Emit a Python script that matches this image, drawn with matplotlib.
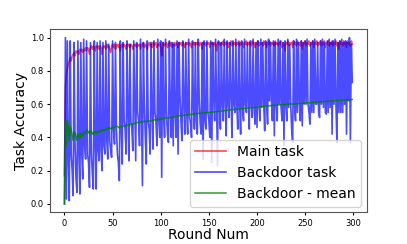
import numpy as np
import matplotlib
matplotlib.use("Agg")
import matplotlib.pyplot as plt

# Precisión por ronda (300 rondas)
main_task = [
    0.17, 0.70, 0.78, 0.81, 0.84, 0.86, 0.88, 0.86, 0.89, 0.90, 0.91, 0.89, 0.92, 0.91, 0.92, 0.90, 0.93, 0.92, 0.93, 0.91,
    0.93, 0.92, 0.94, 0.92, 0.94, 0.93, 0.90, 0.94, 0.95, 0.93, 0.95, 0.94, 0.92, 0.95, 0.94, 0.95, 0.93, 0.95, 0.94, 0.90,
    0.95, 0.94, 0.95, 0.93, 0.96, 0.94, 0.95, 0.93, 0.91, 0.95, 0.96, 0.94, 0.96, 0.93, 0.95, 0.96, 0.94, 0.96, 0.92, 0.95,
    0.96, 0.94, 0.96, 0.95, 0.93, 0.96, 0.95, 0.96, 0.94, 0.96, 0.95, 0.93, 0.96, 0.95, 0.96, 0.94, 0.96, 0.95, 0.96, 0.93,
    0.96, 0.95, 0.97, 0.94, 0.96, 0.95, 0.93, 0.96, 0.97, 0.95, 0.96, 0.94, 0.97, 0.95, 0.96, 0.97, 0.94, 0.96, 0.95, 0.97,
    0.94, 0.89, 0.96, 0.97, 0.95, 0.96, 0.97, 0.94, 0.96, 0.97, 0.95, 0.97, 0.94, 0.96, 0.97, 0.95, 0.97, 0.96, 0.94, 0.97,
    0.96, 0.97, 0.95, 0.97, 0.96, 0.94, 0.97, 0.96, 0.97, 0.95, 0.97, 0.96, 0.94, 0.97, 0.96, 0.97, 0.95, 0.97, 0.96, 0.97,
    0.95, 0.97, 0.96, 0.93, 0.97, 0.96, 0.97, 0.95, 0.97, 0.96, 0.97, 0.94, 0.97, 0.96, 0.97, 0.95, 0.97, 0.96, 0.92, 0.97,
    0.96, 0.97, 0.95, 0.97, 0.96, 0.98, 0.95, 0.97, 0.96, 0.97, 0.94, 0.97, 0.96, 0.98, 0.95, 0.97, 0.96, 0.97, 0.95, 0.97,
    0.96, 0.98, 0.95, 0.97, 0.96, 0.97, 0.94, 0.97, 0.96, 0.98, 0.95, 0.97, 0.96, 0.97, 0.95, 0.98, 0.96, 0.97, 0.94, 0.97,
    0.96, 0.98, 0.95, 0.97, 0.96, 0.97, 0.95, 0.98, 0.96, 0.97, 0.94, 0.97, 0.96, 0.98, 0.95, 0.97, 0.96, 0.97, 0.95, 0.98,
    0.96, 0.97, 0.95, 0.97, 0.96, 0.98, 0.94, 0.97, 0.96, 0.92, 0.97, 0.96, 0.98, 0.95, 0.97, 0.96, 0.97, 0.94, 0.98, 0.96,
    0.97, 0.95, 0.98, 0.96, 0.97, 0.95, 0.98, 0.93, 0.97, 0.96, 0.98, 0.95, 0.97, 0.96, 0.98, 0.95, 0.97, 0.96, 0.98, 0.94,
    0.97, 0.96, 0.98, 0.95, 0.97, 0.96, 0.98, 0.95, 0.97, 0.96, 0.98, 0.94, 0.97, 0.96, 0.98, 0.95, 0.97, 0.96, 0.98, 0.95,
    0.97, 0.96, 0.98, 0.95, 0.97, 0.93, 0.98, 0.96, 0.97, 0.95, 0.98, 0.96, 0.97, 0.94, 0.98, 0.96, 0.97, 0.95, 0.98, 0.96,
]

backdoor_task = [
    0.00, 1.00, 0.03, 0.98, 0.25, 0.02, 0.98, 0.30, 0.20, 0.05, 0.97, 0.35, 0.15, 0.07, 0.98, 0.30, 0.06, 0.97, 0.30, 0.15,
    0.99, 0.35, 0.27, 0.98, 0.30, 0.25, 0.10, 0.97, 0.30, 0.18, 0.09, 0.98, 0.35, 0.09, 0.97, 0.32, 0.26, 0.98, 0.32, 0.20,
    0.97, 0.35, 0.30, 0.98, 0.38, 0.27, 0.96, 0.38, 0.32, 0.28, 0.98, 0.45, 0.36, 0.97, 0.45, 0.30, 0.25, 0.14, 0.98, 0.45,
    0.24, 0.97, 0.50, 0.45, 0.30, 0.98, 0.55, 0.26, 0.96, 0.50, 0.45, 0.32, 0.98, 0.60, 0.26, 0.97, 0.55, 0.50, 0.35, 0.99,
    0.55, 0.11, 0.97, 0.60, 0.40, 0.24, 0.98, 0.50, 0.45, 0.30, 0.97, 0.55, 0.33, 0.98, 0.55, 0.50, 0.35, 0.99, 0.50, 0.40,
    0.98, 0.16, 0.97, 0.55, 0.40, 0.99, 0.55, 0.42, 0.37, 0.98, 0.55, 0.40, 0.97, 0.35, 0.96, 0.55, 0.40, 0.98, 0.30, 0.97,
    0.65, 0.50, 0.38, 0.98, 0.60, 0.42, 0.97, 0.55, 0.42, 0.99, 0.52, 0.48, 0.40, 0.98, 0.58, 0.45, 0.97, 0.50, 0.42, 0.99,
    0.62, 0.48, 0.42, 0.97, 0.27, 0.98, 0.50, 0.45, 0.98, 0.55, 0.50, 0.40, 0.98, 0.25, 0.97, 0.65, 0.50, 0.99, 0.60, 0.23,
    0.98, 0.60, 0.45, 0.97, 0.60, 0.50, 0.99, 0.62, 0.41, 0.98, 0.60, 0.52, 0.97, 0.65, 0.40, 0.98, 0.60, 0.55, 0.99, 0.60,
    0.45, 0.97, 0.60, 0.42, 0.98, 0.58, 0.50, 0.99, 0.60, 0.55, 0.97, 0.62, 0.45, 0.98, 0.60, 0.52, 0.99, 0.58, 0.48, 0.97,
    0.46, 0.98, 0.60, 0.50, 0.99, 0.58, 0.97, 0.60, 0.44, 0.98, 0.60, 0.48, 0.99, 0.62, 0.97, 0.62, 0.50, 0.98, 0.41, 0.97,
    0.60, 0.50, 0.99, 0.60, 0.98, 0.58, 0.50, 0.97, 0.35, 0.98, 0.60, 0.50, 0.99, 0.58, 0.96, 0.60, 0.45, 0.37, 0.98, 0.60,
    0.50, 0.99, 0.55, 0.97, 0.62, 0.50, 0.98, 0.47, 0.97, 0.60, 0.98, 0.60, 0.99, 0.60, 0.55, 0.48, 0.97, 0.55, 0.98, 0.55,
    0.99, 0.60, 0.60, 0.97, 0.55, 0.52, 0.98, 0.60, 0.99, 0.58, 0.97, 0.55, 0.54, 0.98, 0.55, 0.99, 0.58, 0.97, 0.42, 0.98,
    0.60, 0.99, 0.60, 0.37, 0.97, 0.55, 0.98, 0.55, 0.99, 0.55, 0.97, 0.60, 0.98, 0.42, 0.97, 0.62, 1.00, 0.37, 0.96, 0.73,
]

rondas = np.arange(len(main_task))
# media acumulada de la tarea backdoor
backdoor_mean = np.cumsum(backdoor_task) / (rondas + 1)

fig = plt.figure(figsize=(4.07, 2.44), dpi=100)
ax = fig.add_axes([0.123, 0.13, 0.778, 0.75])

ax.plot(rondas, main_task, color="r", alpha=0.7, linewidth=1.2, label="Main task")
ax.plot(rondas, backdoor_task, color="b", alpha=0.7, linewidth=1.2, label="Backdoor task")
ax.plot(rondas, backdoor_mean, color="g", alpha=0.8, linewidth=1.1, label="Backdoor - mean")

ax.set_xlabel("Round Num", fontsize=10, labelpad=0)
ax.set_ylabel("Task Accuracy", fontsize=10, labelpad=2)
ax.set_xticks([0, 50, 100, 150, 200, 250, 300])
ax.tick_params(labelsize=6, length=2.5, pad=2)
for s in ax.spines.values():
    s.set_color("#555555")

ax.legend(loc="lower right", fontsize=10, handlelength=2.2, borderaxespad=0.4)

plt.savefig("out.png")
